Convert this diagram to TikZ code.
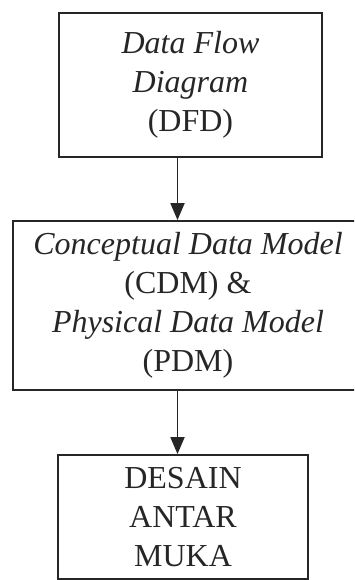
\documentclass[tikz,border=0pt]{standalone}
\usepackage{fontspec}
\setmainfont{Liberation Serif}
\usetikzlibrary{arrows.meta}
\begin{document}
\begin{tikzpicture}[x=1pt,y=-1pt,
  box/.style={draw=black!85, line width=1.8pt, inner sep=0pt, align=center, text=black!85,
    font=\fontsize{32}{39}\selectfont},
  conn/.style={draw=black!85, line width=1.8pt, -{Triangle[length=17pt,width=14pt]}}]
\useasboundingbox (0,0) rectangle (354,580);
\clip (0,0) rectangle (354,580);
\node[box, minimum width=263pt, minimum height=144pt] (dfd) at (190.5,85)
  {\textit{Data Flow}\\ \textit{Diagram}\\ (DFD)};
\node[box, minimum width=350pt, minimum height=169pt] (cdm) at (188,305.5)
  {\textit{Conceptual Data Model}\\ (CDM) \&\\ \textit{Physical Data Model}\\ (PDM)};
\node[box, minimum width=250pt, minimum height=124pt] (desain) at (183,517)
  {DESAIN\\ ANTAR\\ MUKA};
\coordinate (ax) at (177.5,0);
\draw[conn] (dfd.south -| ax) -- (cdm.north -| ax);
\draw[conn] (cdm.south -| ax) -- (desain.north -| ax);
\end{tikzpicture}
\end{document}
